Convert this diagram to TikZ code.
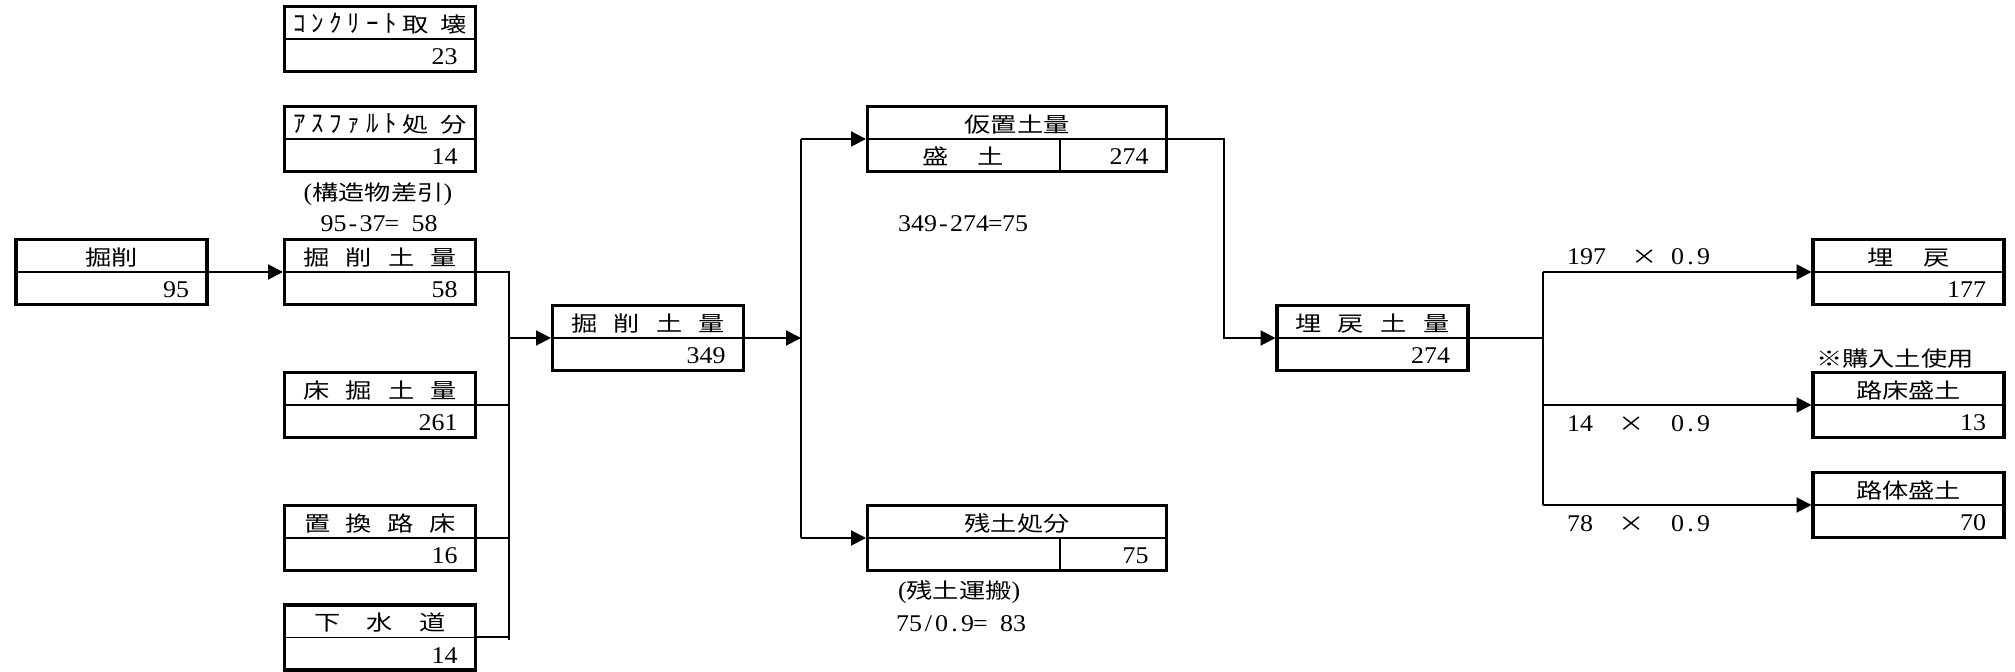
\documentclass[tikz,border=0pt]{standalone}
\usepackage{fontspec}
\setmainfont{Liberation Serif}[FakeStretch=1.08]
\newfontfamily\jpfam{Noto Sans CJK JP}[FakeStretch=1.25]
\newfontfamily\kkfam{Noto Sans CJK JP}[FakeStretch=1.0]
\newcommand\jp{\jpfam\fontsize{10.5pt}{13pt}\selectfont}
\newcommand\kk[1]{{\kkfam\fontsize{12.5pt}{14pt}\selectfont #1}}
\usetikzlibrary{arrows.meta}
\def\hw#1{\hwloop#1\relax}
\def\hwloop#1{\ifx#1\relax\else\makebox[6.5pt]{#1}\expandafter\hwloop\fi}
\newcommand\dist[2]{\makebox[#1]{#2}}
\tikzset{
  every node/.style={inner sep=0pt, outer sep=0pt, font=\fontsize{12pt}{14pt}\selectfont},
  qb/.style={draw, rectangle, line width=1.65pt, minimum height=32.4pt, outer sep=0.8pt},
  divline/.style={line width=0.6pt},
  conn/.style={line width=1pt},
  arr/.style={conn, -{Triangle[length=7.5pt,width=7.5pt]}},
}
% name, x, y, top text, value
\newcommand\qbox[5]{%
  \node[qb, minimum width=95.4pt] (#1) at (#2,#3) {};
  \draw[divline] (#1.west) -- (#1.east);
  \node[anchor=base] (#1-t) at ([yshift=3.25pt]#1.center) {\jp #4};
  \node[anchor=base east] (#1-v) at ([xshift=-9.75pt,yshift=-13pt]#1.east) {#5};
}
% name, x, y, top text, left cell text, value
\newcommand\wbox[6]{%
  \node[qb, minimum width=149.4pt] (#1) at (#2,#3) {};
  \draw[divline] (#1.west) -- (#1.east);
  \draw[divline] (#1.center -| wd) -- (#1.south -| wd);
  \node[anchor=base] (#1-t) at ([yshift=3.25pt]#1.center) {\jp #4};
  \node[anchor=base] (#1-l) at ([yshift=-13pt]#1.center -| lc) {\jp #5};
  \node[anchor=base east] (#1-v) at ([xshift=-9.75pt,yshift=-13pt]#1.east) {#6};
}
\begin{document}
\begin{tikzpicture}[x=0.5pt,y=-0.5pt]
\fill[white] (0,0) rectangle (2015,672);
\useasboundingbox (0,0) rectangle (2015,672);
\coordinate (wd) at (1060,0);
\coordinate (lc) at (963,0);

\qbox{A}{380}{39}{\dist{87pt}{\kk{ｺ}\hfill \kk{ﾝ}\hfill \kk{ｸ}\hfill \kk{ﾘ}\hfill \kk{ｰ}\hfill \kk{ﾄ}\hfill 取\hfill\hfill 壊}}{23}
\qbox{B}{380}{139}{\dist{87pt}{\kk{ｱ}\hfill \kk{ｽ}\hfill \kk{ﾌ}\hfill \kk{ｧ}\hfill \kk{ﾙ}\hfill \kk{ﾄ}\hfill 処\hfill\hfill 分}}{14}
\qbox{C}{111.5}{272}{掘削}{95}
\qbox{D}{380}{272}{\dist{77pt}{掘\hfill 削\hfill 土\hfill 量}}{58}
\qbox{E}{380}{405}{\dist{77pt}{床\hfill 掘\hfill 土\hfill 量}}{261}
\qbox{F}{380}{538}{\dist{76pt}{置\hfill 換\hfill 路\hfill 床}}{16}
\qbox{G}{380}{637.5}{\dist{66pt}{下\hfill 水\hfill 道}}{14}
\qbox{H}{648}{338}{\dist{76.5pt}{掘\hfill 削\hfill 土\hfill 量}}{349}
\wbox{I}{1017}{139}{仮置土量}{\dist{41pt}{盛\hfill 土}}{274}
\wbox{J}{1017}{538}{残土処分}{}{75}
\qbox{K}{1372.5}{338}{\dist{77.5pt}{埋\hfill 戻\hfill 土\hfill 量}}{274}
\qbox{L}{1908.5}{272}{\dist{41pt}{埋\hfill 戻}}{177}
\qbox{M}{1908.5}{405}{路床盛土}{13}
\qbox{N}{1908.5}{505}{路体盛土}{70}

\node[anchor=base] (t1) at (378,201) {({\jp 構造物差引})};
\node[anchor=base] (t2) at (379,232) {\hw{95-37=~58}};
\node[anchor=base west] (t3) at (898,232) {\hw{349-274=75}};
\node[anchor=base west] (t4) at (898,599) {({\jp 残土運搬})};
\node[anchor=base west] (t5) at (896,632) {\hw{75/0.9=~83}};
\node[anchor=base west] (t6) at (1816,367) {\jp ※購入土使用};
\node[anchor=base west] (t7) at (1567,265) {\hw{197~~}\makebox[13pt]{\jp ×}\hw{~0.9}};
\node[anchor=base west] (t8) at (1567,432) {\hw{14~~}\makebox[13pt]{\jp ×}\hw{~~0.9}};
\node[anchor=base west] (t9) at (1567,532) {\hw{78~~}\makebox[13pt]{\jp ×}\hw{~~0.9}};

\coordinate (bl) at (509,640);
\coordinate (bm) at (801,538);
\coordinate (br1) at (1224,139);
\coordinate (br2) at (1543,338);

\draw[arr] (C.east) -- (D.west);
\draw[conn] (D.east) -- (D.east -| bl) -- (bl);
\draw[conn] (E.east) -- (E.east -| bl);
\draw[conn] (F.east) -- (F.east -| bl);
\draw[conn] (G.east) -- (G.east -| bl);
\draw[arr] (H.west -| bl) -- (H.west);
\draw[arr] (H.east) -- (H.east -| bm);
\draw[conn] (I.west -| bm) -- (J.west -| bm);
\draw[arr] (I.west -| bm) -- (I.west);
\draw[arr] (J.west -| bm) -- (J.west);
\draw[arr] (I.east) -- (I.east -| br1) |- (K.west);
\draw[conn] (K.east) -- (K.east -| br2);
\draw[conn] (L.west -| br2) -- (N.west -| br2);
\draw[arr] (L.west -| br2) -- (L.west);
\draw[arr] (M.west -| br2) -- (M.west);
\draw[arr] (N.west -| br2) -- (N.west);
\end{tikzpicture}
\end{document}
